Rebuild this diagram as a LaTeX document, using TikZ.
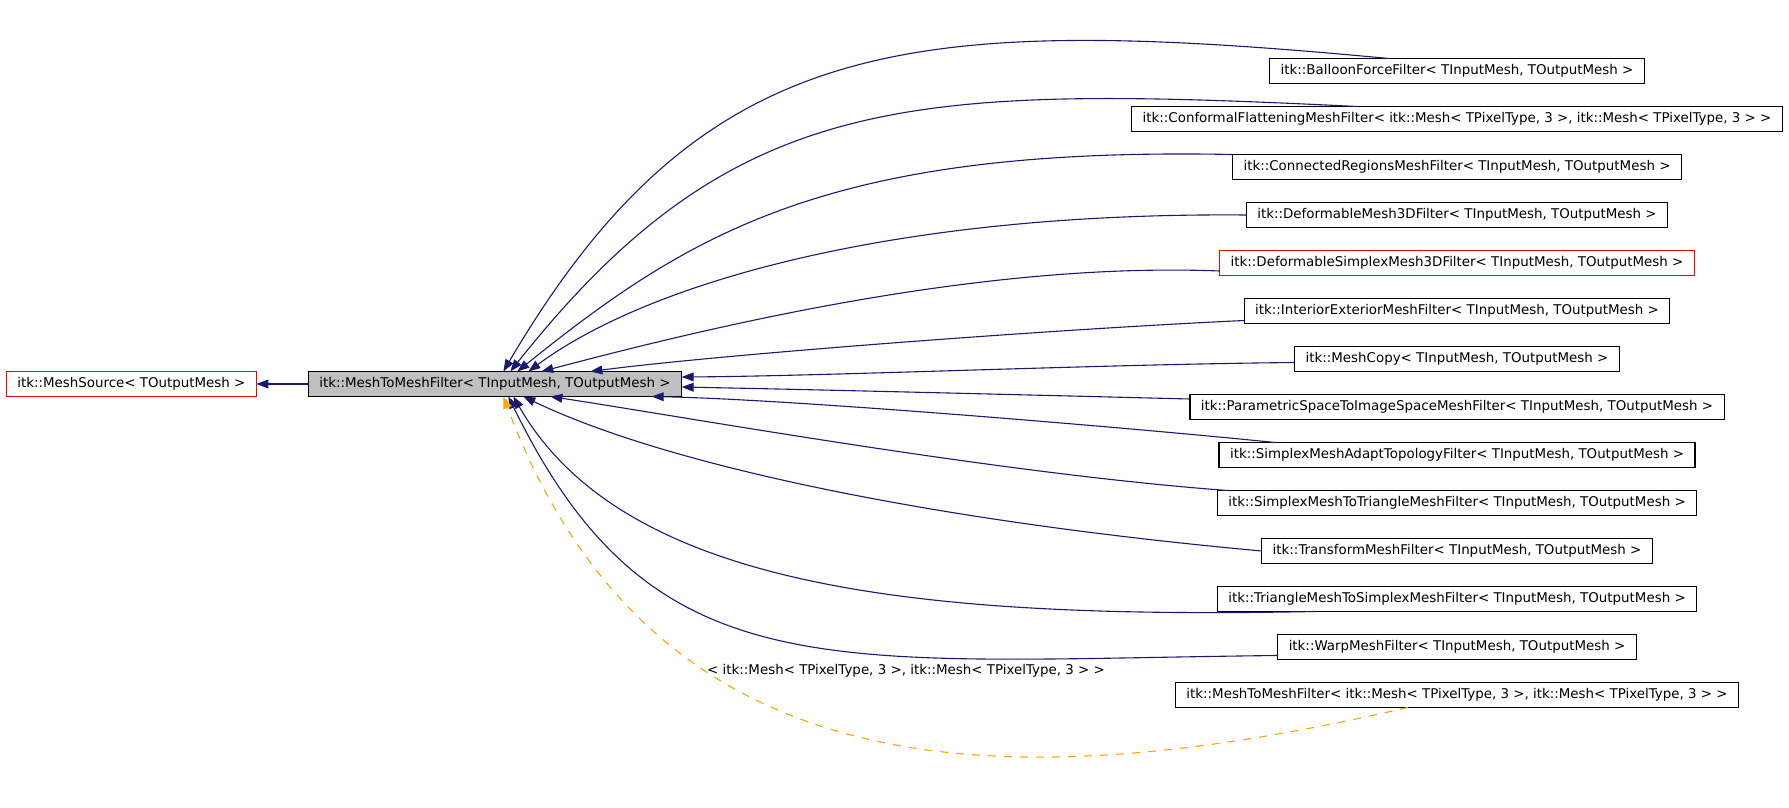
\documentclass[tikz,border=0pt]{standalone}
\usepackage{fontspec}
\setmainfont{DejaVu Sans}
\usetikzlibrary{positioning,arrows.meta,calc}
\definecolor{EdgeBlue}{HTML}{191970}
\definecolor{TmplOrange}{HTML}{FFA500}
\definecolor{BaseGray}{HTML}{BFBFBF}

\begin{document}
\begin{tikzpicture}[
  x=0.5pt,y=-0.5pt,
  node distance=11.5pt and 26pt,
  font=\fontsize{6.7}{8}\selectfont,
  cls/.style={draw,line width=0.6pt,outer sep=0pt,inner xsep=5.5pt,inner ysep=0pt,minimum height=12.5pt,text height=5pt,text depth=1.4pt},
  inh/.style={draw=EdgeBlue,line width=0.55pt,-{Triangle[length=6pt,width=4.4pt]}},
  tmpl/.style={draw=TmplOrange,line width=0.55pt,dash pattern=on 4pt off 4pt,-{Triangle[length=6pt,width=4.4pt]}}
]
\useasboundingbox (0,0) rectangle (1789,808);
\node[cls,fill=BaseGray] (m2m) at (495,384) {itk::MeshToMeshFilter< TInputMesh, TOutputMesh >};
\node[cls,draw=red,left=of m2m] (source) {itk::MeshSource< TOutputMesh >};
\node[cls] (balloon) at (1457,71) {itk::BalloonForceFilter< TInputMesh, TOutputMesh >};
\node[cls,below=of balloon] (conformal) {itk::ConformalFlatteningMeshFilter< itk::Mesh< TPixelType, 3 >, itk::Mesh< TPixelType, 3 > >};
\node[cls,below=of conformal] (connected) {itk::ConnectedRegionsMeshFilter< TInputMesh, TOutputMesh >};
\node[cls,below=of connected] (deform3d) {itk::DeformableMesh3DFilter< TInputMesh, TOutputMesh >};
\node[cls,draw=red,below=of deform3d] (deformsimplex) {itk::DeformableSimplexMesh3DFilter< TInputMesh, TOutputMesh >};
\node[cls,below=of deformsimplex] (intext) {itk::InteriorExteriorMeshFilter< TInputMesh, TOutputMesh >};
\node[cls,below=of intext] (meshcopy) {itk::MeshCopy< TInputMesh, TOutputMesh >};
\node[cls,below=of meshcopy] (paramspace) {itk::ParametricSpaceToImageSpaceMeshFilter< TInputMesh, TOutputMesh >};
\node[cls,below=of paramspace] (adapttopo) {itk::SimplexMeshAdaptTopologyFilter< TInputMesh, TOutputMesh >};
\node[cls,below=of adapttopo] (simplextotri) {itk::SimplexMeshToTriangleMeshFilter< TInputMesh, TOutputMesh >};
\node[cls,below=of simplextotri] (transform) {itk::TransformMeshFilter< TInputMesh, TOutputMesh >};
\node[cls,below=of transform] (tritosimplex) {itk::TriangleMeshToSimplexMeshFilter< TInputMesh, TOutputMesh >};
\node[cls,below=of tritosimplex] (warp) {itk::WarpMeshFilter< TInputMesh, TOutputMesh >};
\node[cls,below=of warp] (meshinst) {itk::MeshToMeshFilter< itk::Mesh< TPixelType, 3 >, itk::Mesh< TPixelType, 3 > >};
\node (tmpllabel) at (906,671) {< itk::Mesh< TPixelType, 3 >, itk::Mesh< TPixelType, 3 > >};
\draw[inh] (m2m) -- (source);
\draw[inh] ($(balloon.north)+(-68,0)$) .. controls +(-480,-45) and +(200,-340) .. ($(m2m.north west)+(195,0)$);
\draw[inh] ($(conformal.north)+(-100,0)$) .. controls +(-450,-22) and +(223,-281) .. ($(m2m.north west)+(202,0)$);
\draw[inh] (connected.north west) .. controls +(-400,-8) and +(175,-141) .. ($(m2m.north west)+(209,0)$);
\draw[inh] (deform3d.west) .. controls +(-350,-3) and +(122,-90) .. ($(m2m.north west)+(220,0)$);
\draw[inh] ($(deformsimplex.west)+(0,8)$) .. controls +(-250,-10) and +(145,-38) .. ($(m2m.north west)+(233,0)$);
\draw[inh] ($(intext.west)+(0,9.5)$) .. controls +(-194,9) and +(130,-17) .. ($(m2m.north west)+(282,0)$);
\draw[inh] ($(meshcopy.west)+(0,3.5)$) .. controls +(-200,2) and +(150,-1) .. ($(m2m.east)+(0,-7)$);
\draw[inh] ($(paramspace.west)+(0,-8)$) .. controls +(-200,-5) and +(150,3) .. ($(m2m.east)+(0,3)$);
\draw[inh] ($(adapttopo.north)+(-182,0)$) .. controls +(-126,-13) and +(147,3) .. ($(m2m.south east)+(-30,0)$);
\draw[inh] ($(simplextotri.north west)+(10,0)$) .. controls +(-227,-17) and +(150,23) .. ($(m2m.south west)+(242,0)$);
\draw[inh] (transform.west) .. controls +(-350,-32) and +(135,65) .. ($(m2m.south west)+(215,0)$);
\draw[inh] ($(tritosimplex.south)+(-142,0)$) .. controls +(-400,8) and +(110,191) .. ($(m2m.south west)+(205,0)$);
\draw[inh] ($(warp.west)+(0,8.5)$) .. controls +(-450,5) and +(145,297) .. ($(m2m.south west)+(200,0)$);
\draw[tmpl] ($(meshinst.south)+(-49,0)$) .. controls +(-400,92) and +(150,400) .. ($(m2m.south west)+(195,0)$);
\end{tikzpicture}
\end{document}
